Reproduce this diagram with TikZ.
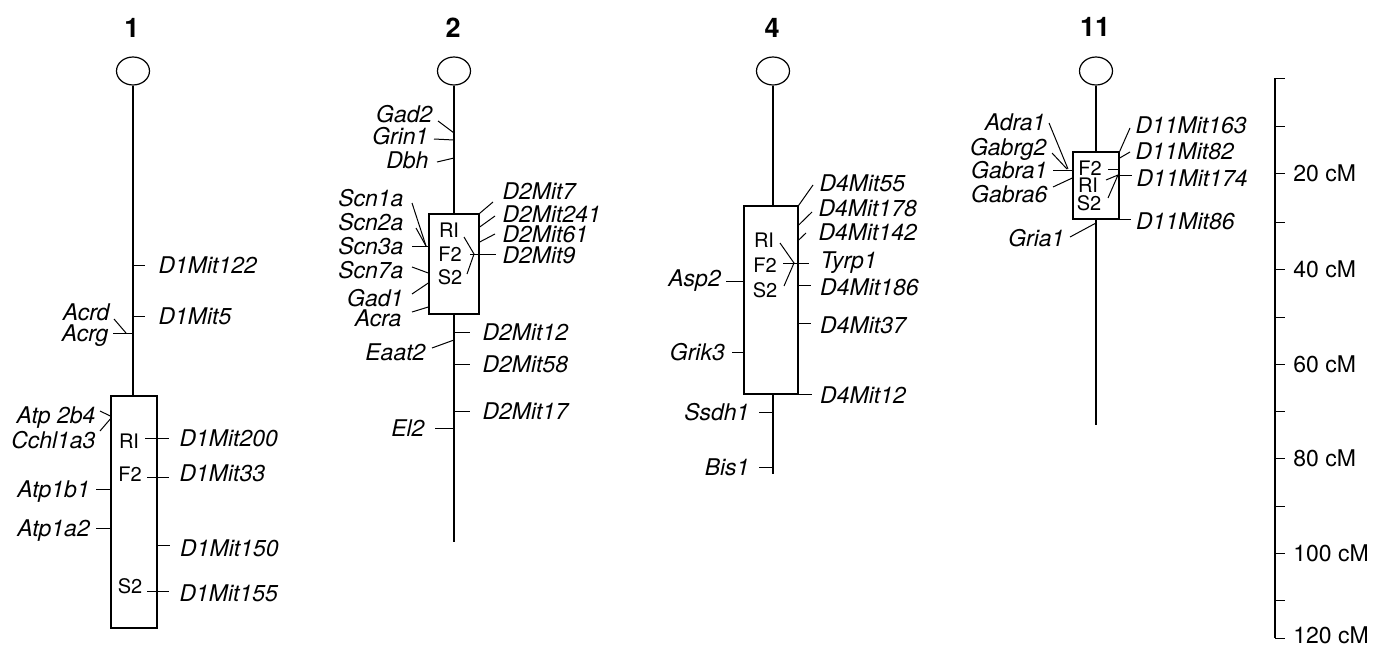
\documentclass[tikz,border=0pt]{standalone}
\usepackage{fontspec}
\setmainfont{TeX Gyre Heros}
\usetikzlibrary{positioning,shapes.geometric}

\tikzset{
  gene/.style={font=\itshape\fontsize{11.5}{13}\selectfont, inner xsep=1.5pt, inner ysep=0pt, text height=8.3pt, text depth=0pt},
  pop/.style={font=\fontsize{10}{12}\selectfont, inner sep=0pt},
  chrno/.style={font=\bfseries\fontsize{13.5}{15}\selectfont},
  cmlab/.style={font=\fontsize{11.5}{13}\selectfont, inner xsep=1.5pt, inner ysep=0pt},
  chrom/.style={line width=0.8pt},
  leader/.style={line width=0.5pt},
  centro/.style={draw, ellipse, line width=0.6pt, minimum width=16.5pt, minimum height=14pt, inner sep=0pt},
  chrbox/.style={draw, line width=0.7pt, inner sep=0pt}
}

\begin{document}
\begin{tikzpicture}[x=0.5pt,y=-0.5pt]
\useasboundingbox (0,0) rectangle (1386,648);

% chromosome 1
\node[chrno] (n1) at (132,28) {1};
\node[centro] (cen1) at (133,71) {};
\node[chrbox, minimum width=23pt, minimum height=116pt] (box1) at (134,512) {};
\draw[chrom] (cen1.south) -- (cen1.south |- box1.north);
\node[pop] (ri1) at (129,441) {RI};
\node[pop] (f21) at (130,474) {F2};
\node[pop] (s21) at (130,586) {S2};
\draw[leader] (133,265) -- ++(12,0) node[gene,right=5pt] (D1Mit122) {D1Mit122};
\draw[leader] (133,316) -- ++(12,0) node[gene,right=5pt] (D1Mit5) {D1Mit5};
\draw[leader] (133,333) -- ++(-20,0) node[gene,left=0.5pt] (Acrg) {Acrg};
\draw[leader] (126,333) -- (114,319) node[gene,left=0.5pt,yshift=3.5pt] (Acrd) {Acrd};
\draw[leader] (box1.west |- 0,416) -- (100,411) node[gene,left=0.5pt,yshift=-2pt] (Atp2b4) {Atp 2b4};
\draw[leader] (box1.west |- 0,419) -- (100,431) node[gene,left=0.5pt,yshift=-4.5pt] (Cchl1a3) {Cchl1a3};
\draw[leader] (box1.west |- 0,489) -- ++(-14,0) node[gene,left=1.5pt] (Atp1b1) {Atp1b1};
\draw[leader] (box1.west |- 0,528) -- ++(-14,0) node[gene,left=1.5pt] (Atp1a2) {Atp1a2};
\draw[leader] (145,438) -- ++(24,0) node[gene,right=3.5pt] (D1Mit200) {D1Mit200};
\draw[leader] (147,477) -- ++(22,0) node[gene,right=3.5pt,yshift=2pt] (D1Mit33) {D1Mit33};
\draw[leader] (box1.east |- 0,545) -- ++(12,0) node[gene,right=3.5pt,yshift=-1.5pt] (D1Mit150) {D1Mit150};
\draw[leader] (147,591) -- ++(22,0) node[gene,right=3.5pt,yshift=-1pt] (D1Mit155) {D1Mit155};

% chromosome 2
\node[chrno] (n2) at (453,28) {2};
\node[centro] (cen2) at (454,71) {};
\node[chrbox, minimum width=25pt, minimum height=50pt] (box2) at (454,264) {};
\coordinate (end2) at (454,542);
\draw[chrom] (cen2.south) -- (box2.north);
\draw[chrom] (box2.south) -- (end2);
\node[pop] (ri2) at (449,230) {RI};
\node[pop] (f22) at (450,254) {F2};
\node[pop] (s22) at (450,277) {S2};
\draw[leader] (454,133) -- (438,121) node[gene,left=1pt,yshift=3.5pt] (Gad2) {Gad2};
\draw[leader] (454,140) -- (434,139) node[gene,left=1pt,yshift=1.5pt] (Grin1) {Grin1};
\draw[leader] (454,158) -- (437,162) node[gene,left=2.5pt,yshift=1pt] (Dbh) {Dbh};
\draw[leader] (426,246) -- (412,203) node[gene,left=2.5pt,yshift=2.5pt] (Scn1a) {Scn1a};
\draw[leader] (426,246) -- (416,228) node[gene,left=4.5pt,yshift=3pt] (Scn2a) {Scn2a};
\draw[leader] (box2.west |- 0,246) -- (412,246) node[gene,left=2.5pt] (Scn3a) {Scn3a};
\draw[leader] (box2.west |- 0,273) -- (412,267) node[gene,left=2.5pt,yshift=-1.5pt] (Scn7a) {Scn7a};
\draw[leader] (box2.west |- 0,283) -- (412,294) node[gene,left=2.5pt,yshift=-2pt] (Gad1) {Gad1};
\draw[leader] (box2.west |- 0,307) -- (412,312) node[gene,left=3.5pt,yshift=-3pt] (Acra) {Acra};
\draw[leader] (box2.north east) -- (493,202) node[gene,right=3pt,yshift=5.5pt] (D2Mit7) {D2Mit7};
\draw[leader] (box2.east |- 0,227) -- (495,216) node[gene,right=2pt,yshift=1pt] (D2Mit241) {D2Mit241};
\draw[leader] (box2.east |- 0,242) -- (495,234) node[gene,right=2pt] (D2Mit61) {D2Mit61};
\draw[leader] (464,237) -- (474,254) -- (467,274);
\draw[leader] (470,254) -- (496,254) node[gene,right=1.5pt,yshift=-0.5pt] (D2Mit9) {D2Mit9};
\draw[leader] (454,332) -- ++(16,0) node[gene,right=4.5pt] (D2Mit12) {D2Mit12};
\draw[leader] (454,340) -- (432,348) node[gene,left=1.5pt,yshift=-2pt] (Eaat2) {Eaat2};
\draw[leader] (454,364) -- ++(16,0) node[gene,right=4.5pt] (D2Mit58) {D2Mit58};
\draw[leader] (454,411) -- ++(16,0) node[gene,right=4.5pt] (D2Mit17) {D2Mit17};
\draw[leader] (454,428) -- ++(-19,0) node[gene,left=3.5pt] (El2) {El2};

% chromosome 4
\node[chrno] (n4) at (772,28) {4};
\node[centro] (cen4) at (773,71) {};
\node[chrbox, minimum width=27pt, minimum height=94pt] (box4) at (771,300) {};
\coordinate (end4) at (773,474);
\draw[chrom] (cen4.south) -- (cen4.south |- box4.north);
\draw[chrom] (cen4.south |- box4.south) -- (end4);
\node[pop] (ri4) at (764,240) {RI};
\node[pop] (f24) at (765,265) {F2};
\node[pop] (s24) at (765,290) {S2};
\draw[leader] (box4.north east) -- (813,185) node[gene,right=1.5pt,yshift=1pt] (D4Mit55) {D4Mit55};
\draw[leader] (box4.east |- 0,225) -- (812,212) node[gene,right=1.5pt,yshift=2pt] (D4Mit178) {D4Mit178};
\draw[leader] (box4.east |- 0,240) -- (806,233) node[gene,right=4.5pt,yshift=0.5pt] (D4Mit142) {D4Mit142};
\draw[leader] (780,243) -- (794,263) -- (784,286);
\draw[leader] (783,263) -- (809,263) node[gene,right=4pt,yshift=1.5pt] (Tyrp1) {Tyrp1};
\draw[leader] (box4.east |- 0,285) -- ++(12,0) node[gene,right=3pt,yshift=-1pt] (D4Mit186) {D4Mit186};
\draw[leader] (box4.east |- 0,323) -- ++(12,0) node[gene,right=3pt,yshift=-1pt] (D4Mit37) {D4Mit37};
\draw[leader] (box4.west |- 0,281) -- ++(-17,0) node[gene,left=1pt,yshift=1.5pt] (Asp2) {Asp2};
\draw[leader] (box4.west |- 0,352) -- ++(-11,0) node[gene,left=2pt] (Grik3) {Grik3};
\draw[leader] (box4.south east) -- ++(13,0) node[gene,right=2.5pt] (D4Mit12) {D4Mit12};
\draw[leader] (773,412) -- ++(-14,0) node[gene,left=3pt] (Ssdh1) {Ssdh1};
\draw[leader] (773,467) -- ++(-14,0) node[gene,left=3pt] (Bis1) {Bis1};

% chromosome 11
\node[chrno] (n11) at (1095,27) {11};
\node[centro] (cen11) at (1096,71) {};
\node[chrbox, minimum width=23pt, minimum height=33.5pt] (box11) at (1096,185.5) {};
\coordinate (end11) at (1096,425);
\draw[chrom] (cen11.south) -- (box11.north);
\draw[chrom] (box11.south) -- (end11);
\node[pop] (f211) at (1090,168) {F2};
\node[pop] (ri11) at (1088,185) {RI};
\node[pop] (s211) at (1089,203) {S2};
\draw[leader] (1068,169) -- (1049,123) node[gene,left=0pt,yshift=0.5pt] (Adra1) {Adra1};
\draw[leader] (1067,169) -- (1052,153) node[gene,left=1pt,yshift=3pt] (Gabrg2) {Gabrg2};
\draw[leader] (box11.west |- 0,170) -- (1053,170) node[gene,left=1pt] (Gabra1) {Gabra1};
\draw[leader] (box11.west |- 0,178) -- (1053,187) node[gene,left=1pt,yshift=-3.5pt] (Gabra6) {Gabra6};
\draw[leader] (1108,169) -- (box11.east |- 0,169);
\draw[leader] (box11.north east) -- (1130,128) node[gene,right=1pt,yshift=1.5pt] (D11Mit163) {D11Mit163};
\draw[leader] (box11.east |- 0,158) -- (1130,152) node[gene,right=1pt,yshift=0.5pt] (D11Mit82) {D11Mit82};
\draw[leader] (1106,180) -- (1118,175) -- (1108,198);
\draw[leader] (1118,175) -- (1132,175) node[gene,right=0.5pt,yshift=-1.5pt] (D11Mit174) {D11Mit174};
\draw[leader] (box11.south east) -- ++(11,0) node[gene,right=1pt,yshift=-0.5pt] (D11Mit86) {D11Mit86};
\draw[leader] (1096,223) -- (1070,237) node[gene,left=1pt,yshift=-0.5pt] (Gria1) {Gria1};

% scale bar
\coordinate (top) at (1275,78);
\coordinate (bot) at (1275,638);
\draw[chrom] (top) -- (bot);
\foreach \c/\y in {0/78,10/126,20/173,30/222,40/269,50/317,60/364,70/411,80/458,90/506,100/553,110/600,120/638}
  \draw[leader] (1275,\y) -- ++(10,0);
\foreach \c/\y in {20/173,40/269,60/364,80/458,100/553,120/635}
  \node[cmlab,anchor=west] (cm\c) at (1290,\y) {\c\ cM};
\end{tikzpicture}
\end{document}
